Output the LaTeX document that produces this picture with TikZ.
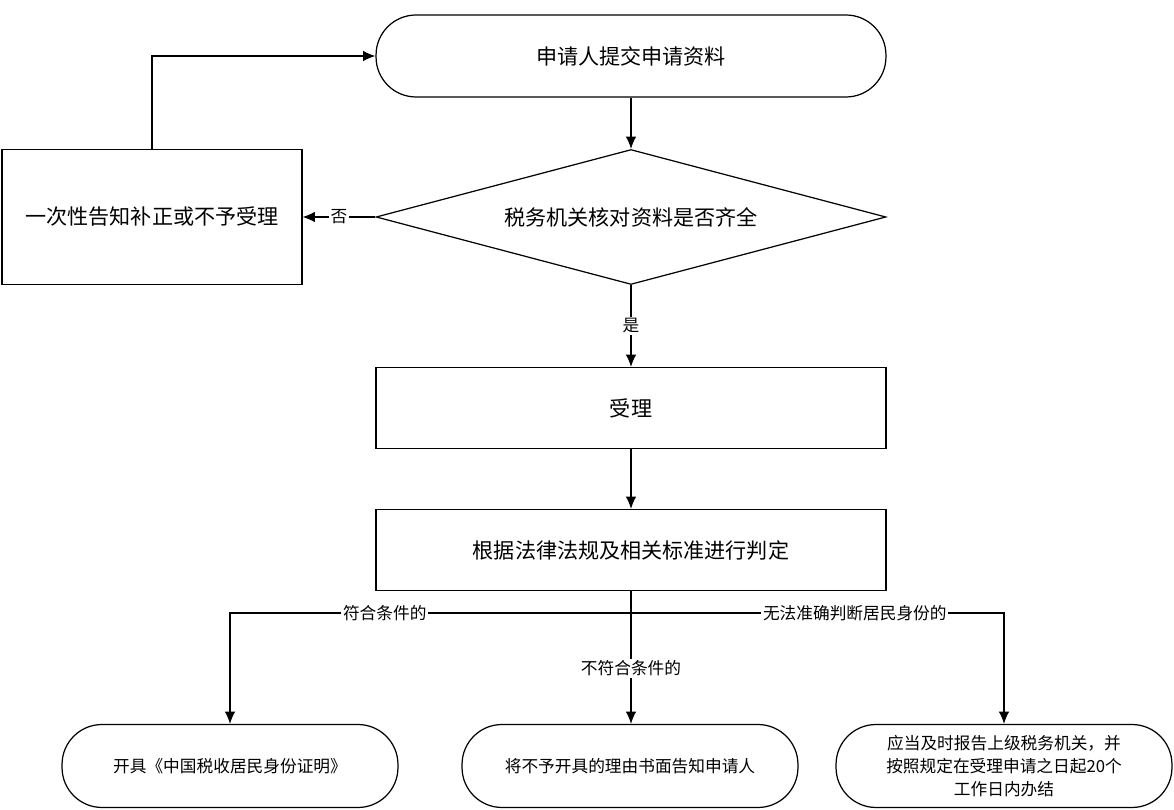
\documentclass[tikz,border=0pt]{standalone}
\usepackage{fontspec}
\setmainfont{Noto Sans CJK SC}
\usepackage{tikz}
\usetikzlibrary{shapes.geometric}
\usetikzlibrary{arrows.meta}
\usetikzlibrary{positioning}

\begin{document}
\begin{tikzpicture}[x=0.02cm, y=-0.02cm, line width=0.7pt, >={Latex[length=7pt,width=6pt]},
    term/.style={draw, rounded corners=0.8cm, minimum width=10.2cm, minimum height=1.64cm, font=\fontsize{12}{14}\selectfont},
    endterm/.style={draw, rounded corners=0.8cm, minimum width=6.72cm, minimum height=1.66cm, align=center, font=\fontsize{9.5}{13}\selectfont},
    decide/.style={draw, diamond, aspect=3.78, inner sep=0pt, minimum width=10.2cm, minimum height=2.7cm, font=\fontsize{12}{14}\selectfont},
    procbox/.style={draw, minimum width=10.2cm, minimum height=1.62cm, font=\fontsize{12}{14}\selectfont},
    lbl/.style={fill=white, inner sep=1pt, font=\fontsize{9.5}{11}\selectfont}]

\useasboundingbox (0,0) rectangle (1174,810);

\node[term] (apply) at (631,56) {申请人提交申请资料};
\node[decide] (check) at (631,217) {税务机关核对资料是否齐全};
\node[draw, minimum width=6cm, minimum height=2.7cm, font=\fontsize{12}{14}\selectfont] (fix) at (152,217) {一次性告知补正或不予受理};
\node[procbox] (accept) at (631,408) {受理};
\node[procbox] (judge) at (631,550) {根据法律法规及相关标准进行判定};

\node[endterm] (issue) at (230,766) {开具《中国税收居民身份证明》};
\node[endterm] (refuse) at (630,766) {将不予开具的理由书面告知申请人};
\node[endterm] (report) at (1004,766) {应当及时报告上级税务机关，并\\按照规定在受理申请之日起20个\\工作日内办结};

\coordinate (split) at (631,613);

\draw[->] (apply) -- (check);
\draw[->] (check) -- node[lbl] {否} (fix);
\draw[->] (fix.north) |- (apply.west);
\draw[->] (check) -- node[lbl] {是} (accept);
\draw[->] (accept) -- (judge);

\draw (judge) -- (split);
\draw[->] (split) -| node[lbl, pos=0.307] {符合条件的} (issue.north);
\draw[->] (split) -- node[lbl] {不符合条件的} (split |- refuse.north);
\draw[->] (split) -| node[lbl, pos=0.3] {无法准确判断居民身份的} (report.north);

\end{tikzpicture}
\end{document}
